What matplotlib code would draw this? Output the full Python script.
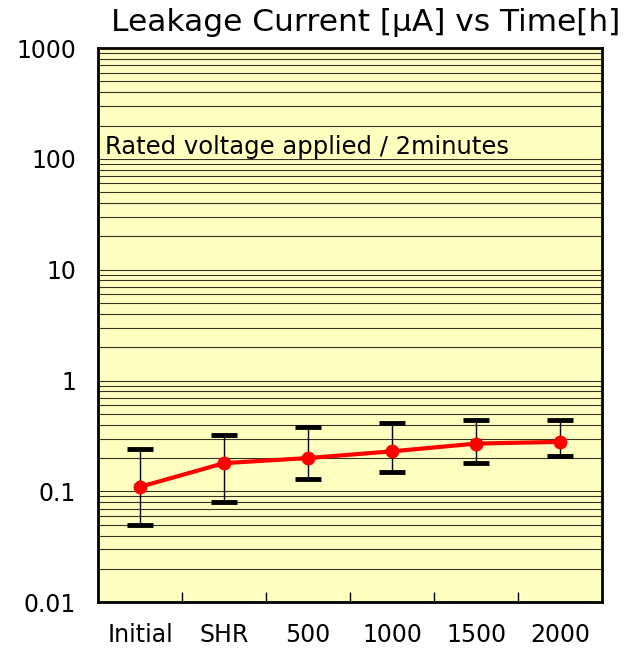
import numpy as np
import matplotlib.pyplot as plt
from matplotlib.ticker import LogLocator, NullFormatter, FixedLocator

plt.rcParams['font.family'] = ['DejaVu Sans']

CATEGORIES = ['Initial', 'SHR', '500', '1000', '1500', '2000']
MEAN = [0.11, 0.18, 0.20, 0.23, 0.27, 0.28]
UPPER = [0.24, 0.32, 0.38, 0.41, 0.44, 0.44]
LOWER = [0.05, 0.08, 0.13, 0.15, 0.18, 0.21]
Y_TICKS = [0.01, 0.1, 1, 10, 100, 1000]
Y_LABELS = ['0.01', '0.1', '1', '10', '100', '1000']


def main():
    fig = plt.figure(figsize=(6.33, 6.49), dpi=100)
    ax = fig.add_axes([0.155, 0.072, 0.796, 0.854])
    ax.set_facecolor('#ffffc0')

    x = np.arange(len(CATEGORIES))
    mean = np.array(MEAN)
    yerr = [mean - np.array(LOWER), np.array(UPPER) - mean]

    ax.errorbar(x, mean, yerr=yerr, fmt='none', ecolor='black',
                elinewidth=1.0, capsize=9.5, capthick=3.5, zorder=3)
    ax.plot(x, mean, color='#ff0000', lw=3, marker='o', ms=9,
            zorder=4)

    ax.set_yscale('log')
    ax.set_ylim(0.01, 1000)
    ax.set_xlim(-0.5, len(CATEGORIES) - 0.5)

    ax.yaxis.set_major_locator(FixedLocator(Y_TICKS))
    ax.set_yticklabels(Y_LABELS)
    ax.yaxis.set_minor_locator(LogLocator(base=10, subs=np.arange(2, 10)))
    ax.yaxis.set_minor_formatter(NullFormatter())
    ax.tick_params(axis='y', which='both', length=0, labelsize=17, pad=16)
    ax.grid(True, axis='y', which='both', color='black', lw=0.8, alpha=0.8)

    ax.set_xticks(x)
    ax.set_xticklabels(CATEGORIES)
    ax.set_xticks(x[:-1] + 0.5, minor=True)
    ax.tick_params(axis='x', which='major', length=0, labelsize=17, pad=15)
    ax.tick_params(axis='x', which='minor', direction='in', length=7,
                   width=1)

    for sp in ax.spines.values():
        sp.set_linewidth(2)

    ax.text(0.014, 0.822, 'Rated voltage applied / 2minutes',
            transform=ax.transAxes, fontsize=17.5, va='center', ha='left',
            bbox=dict(facecolor='#ffffc0', edgecolor='none', pad=0),
            zorder=5)

    fig.text(0.577, 0.966, 'Leakage Current [\u03bcA] vs Time[h]',
             fontsize=22.5, ha='center', va='center')

    fig.savefig('out.png', dpi=100)


if __name__ == '__main__':
    main()
